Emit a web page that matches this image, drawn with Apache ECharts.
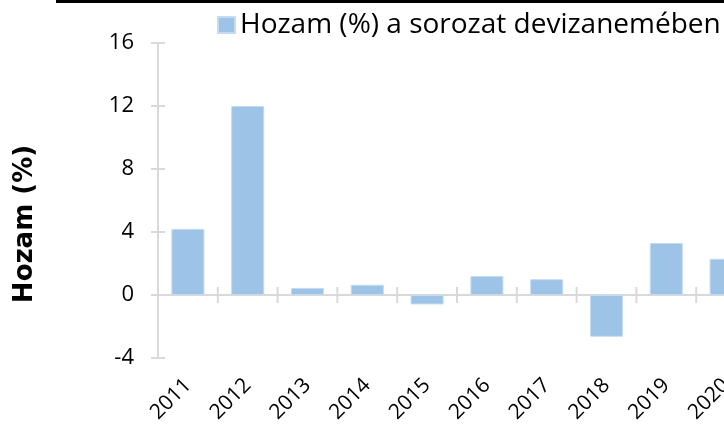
<!DOCTYPE html>
<html>
<head>
<meta charset="utf-8">
<script src="https://cdn.jsdelivr.net/npm/echarts@6/dist/echarts.min.js"></script>
<style>
  html, body { margin: 0; padding: 0; background: #fff; }
  #chart { width: 724px; height: 430px; }
</style>
</head>
<body>
<div id="chart"></div>
<script>
// data
var years = ['2011', '2012', '2013', '2014', '2015', '2016', '2017', '2018', '2019', '2020'];
var hozam = [4.2, 12.0, 0.45, 0.65, -0.6, 1.2, 1.0, -2.65, 3.3, 2.3];
var yTicks = [-4, 0, 4, 8, 12, 16];
var seriesName = 'Hozam (%) a sorozat devizanemében';
var yTitle = 'Hozam (%)';

var font = 'Open Sans';
var axisGrey = '#d9d9d9';

// ticks cross the axis line, so they are drawn by hand through the axes' scales
function xTick(params, api){
    var p = api.coord([api.value(0), 0]);
    var x = p[0] - api.size([1, 0])[0] / 2;
    return {
        type: 'line',
        shape: { x1: x, y1: p[1] - 8, x2: x, y2: p[1] + 8 },
        style: { stroke: axisGrey, lineWidth: 2 }
    };
}

function yTick(params, api){
    var p = api.coord([0, api.value(1)]);
    var x = params.coordSys.x;
    return {
        type: 'line',
        shape: { x1: x - 7, y1: p[1], x2: x + 7, y2: p[1] },
        style: { stroke: axisGrey, lineWidth: 2 }
    };
}

var chart = echarts.init(document.getElementById('chart'));

chart.setOption({
    animation: false,
    textStyle: { fontFamily: font },
    // the plot runs past the right edge of the picture
    grid: { left: 158, width: 598, top: 43, bottom: 72, outerBoundsMode: 'none', containLabel: false },
    legend: {
        left: 217, top: 11, padding: 0,
        itemWidth: 17, itemHeight: 16, itemGap: 10,
        icon: 'rect',
        textStyle: { fontSize: 28, color: '#000', fontFamily: font },
        data: [seriesName]
    },
    xAxis: [
        // labels at the bottom
        {
            type: 'category', data: years, position: 'bottom',
            axisLine: { show: false, onZero: false },
            axisTick: { show: false },
            axisLabel: { rotate: 45, fontSize: 21, color: '#000', margin: 24, interval: 0 }
        },
        // zero line
        {
            type: 'category', data: years, position: 'bottom',
            axisLine: { show: true, onZero: true, onZeroAxisIndex: 0, lineStyle: { color: axisGrey, width: 2 } },
            axisTick: { show: false },
            axisLabel: { show: false }
        }
    ],
    yAxis: {
        type: 'value', min: -4, max: 16, interval: 4, position: 'left',
        splitLine: { show: false },
        axisLine: { show: true, lineStyle: { color: axisGrey, width: 2 } },
        axisTick: { show: false },
        axisLabel: { fontSize: 22, color: '#000', margin: 24 }
    },
    series: [
        {
            name: seriesName,
            type: 'bar',
            data: hozam,
            barWidth: 33,
            itemStyle: { color: '#9dc3e6', borderColor: '#c4dbf1', borderWidth: 1 }
        },
        {
            type: 'custom', silent: true, clip: false,
            renderItem: xTick,
            data: years.slice(1).map(function(y, i){ return [i + 1, 0]; })
        },
        {
            type: 'custom', silent: true, clip: false,
            renderItem: yTick,
            data: yTicks.map(function(v){ return [0, v]; })
        }
    ],
    graphic: [
        { type: 'rect', left: 56, top: 0, shape: { width: 668, height: 3 }, style: { fill: '#000' } },
        {
            type: 'text', x: 25, y: 224, rotation: Math.PI / 2,
            style: {
                text: yTitle, fontSize: 26, fontWeight: 'bold', fontFamily: 'DejaVu Sans',
                fill: '#000', align: 'center', verticalAlign: 'middle'
            }
        }
    ]
});
</script>
</body>
</html>
